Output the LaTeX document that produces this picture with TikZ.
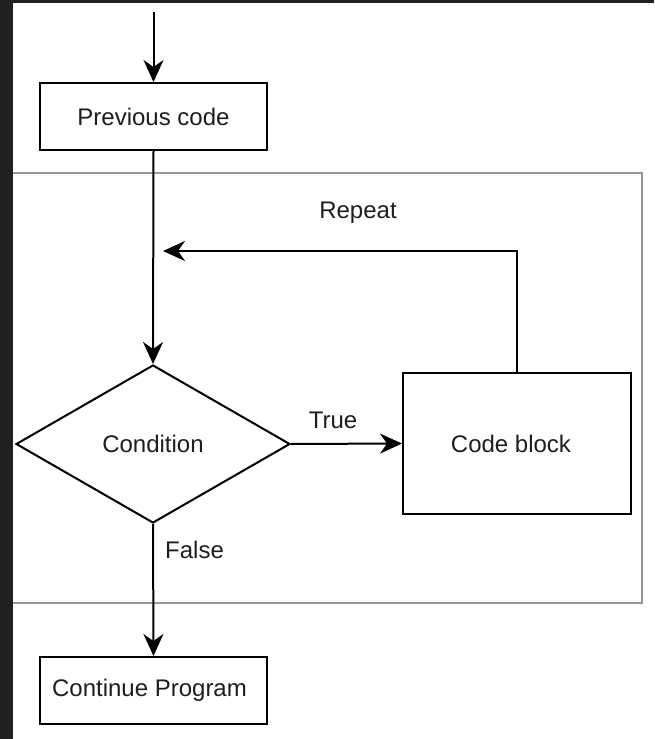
\documentclass[tikz,border=0pt]{standalone}
\usepackage{fontspec}
\setmainfont{Liberation Sans}
\usetikzlibrary{shapes.geometric,arrows.meta}
\definecolor{frame}{RGB}{32,32,32}
\definecolor{grp}{RGB}{150,150,150}
\definecolor{txt}{RGB}{30,30,30}
\begin{document}
\begin{tikzpicture}[x=1pt,y=-1pt,
  every node/.style={font=\fontsize{24}{28}\selectfont,text=txt},
  box/.style={draw=black,line width=2pt,fill=white,inner sep=0pt},
  cond/.style={draw=black,line width=2pt,fill=white,diamond,inner sep=0pt,
    minimum width=274pt,minimum height=158pt,aspect=1.734},
  flow/.style={line width=2pt,-{Stealth[length=22pt,width=20pt,inset=7pt]}},
  lbl/.style={inner sep=0pt}]
\useasboundingbox (0,0) rectangle (654,739);
\fill[white] (0,0) rectangle (654,739);
% group frame
\draw[grp,line width=1.8pt] (10,173) rectangle (642,603);
% dark border
\fill[frame] (0,0) rectangle (13,739);
\fill[frame] (0,0) rectangle (654,3);
% nodes
\node[box,minimum width=227pt,minimum height=67pt] (prev) at (153.5,116.5) {Previous code};
\node[cond] (cond) at (153,444) {Condition};
\node[box,minimum width=228pt,minimum height=141pt] (code) at (517,443.5) {Code block\hspace*{12pt}};
\node[box,minimum width=227pt,minimum height=67pt] (cont) at (153.5,690.5) {Continue Program\hspace*{8pt}};
\coordinate (start) at (153.5,12);
\coordinate (rep) at (163,251);
% connectors
\draw[flow] (start) -- (prev.north);
\draw[flow] (prev.south) -- (cond.north);
\draw[flow] (cond.east) -- (code.west);
\draw[flow] (cond.south) -- (cont.north);
\draw[flow] (code.north) |- (rep);
% labels
\node[lbl] (lrepeat) at (358,213) {Repeat};
\node[lbl] (ltrue) at (333,420) {True};
\node[lbl,anchor=west] (lfalse) at (165,550) {False};
\end{tikzpicture}
\end{document}
